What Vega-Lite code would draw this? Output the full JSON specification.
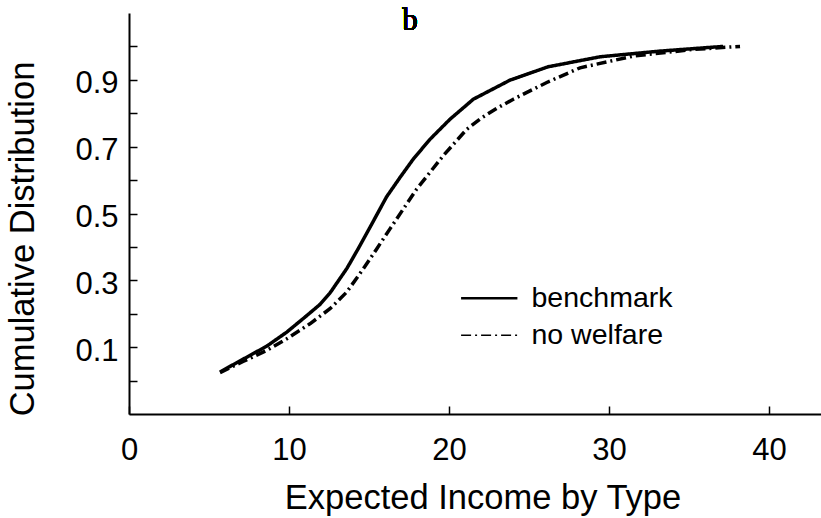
{
  "$schema": "https://vega.github.io/schema/vega-lite/v6.json",
  "width": 692,
  "height": 401,
  "autosize": {"type": "none"},
  "padding": {"left": 129, "top": 13, "right": 0, "bottom": 104},
  "background": "white",
  "data": {"values": [
    {"series": "benchmark", "income": 5.69, "cdf": 0.026},
    {"series": "benchmark", "income": 7.36, "cdf": 0.07},
    {"series": "benchmark", "income": 8.61, "cdf": 0.103},
    {"series": "benchmark", "income": 9.86, "cdf": 0.145},
    {"series": "benchmark", "income": 11.0, "cdf": 0.19},
    {"series": "benchmark", "income": 11.94, "cdf": 0.228},
    {"series": "benchmark", "income": 12.56, "cdf": 0.262},
    {"series": "benchmark", "income": 13.61, "cdf": 0.335},
    {"series": "benchmark", "income": 14.33, "cdf": 0.395},
    {"series": "benchmark", "income": 15.1, "cdf": 0.462},
    {"series": "benchmark", "income": 16.1, "cdf": 0.55},
    {"series": "benchmark", "income": 17.0, "cdf": 0.612},
    {"series": "benchmark", "income": 17.77, "cdf": 0.663},
    {"series": "benchmark", "income": 18.81, "cdf": 0.722},
    {"series": "benchmark", "income": 20.06, "cdf": 0.782},
    {"series": "benchmark", "income": 21.52, "cdf": 0.842},
    {"series": "benchmark", "income": 23.81, "cdf": 0.899},
    {"series": "benchmark", "income": 26.19, "cdf": 0.939},
    {"series": "benchmark", "income": 29.44, "cdf": 0.969},
    {"series": "benchmark", "income": 33.19, "cdf": 0.986},
    {"series": "benchmark", "income": 37.13, "cdf": 1.0},
    {"series": "no welfare", "income": 5.69, "cdf": 0.024},
    {"series": "no welfare", "income": 7.13, "cdf": 0.057},
    {"series": "no welfare", "income": 8.61, "cdf": 0.09},
    {"series": "no welfare", "income": 9.86, "cdf": 0.125},
    {"series": "no welfare", "income": 11.31, "cdf": 0.17},
    {"series": "no welfare", "income": 12.56, "cdf": 0.215},
    {"series": "no welfare", "income": 13.61, "cdf": 0.265},
    {"series": "no welfare", "income": 14.64, "cdf": 0.334},
    {"series": "no welfare", "income": 15.48, "cdf": 0.394},
    {"series": "no welfare", "income": 16.31, "cdf": 0.454},
    {"series": "no welfare", "income": 17.98, "cdf": 0.573},
    {"series": "no welfare", "income": 19.64, "cdf": 0.673},
    {"series": "no welfare", "income": 21.11, "cdf": 0.752},
    {"series": "no welfare", "income": 22.0, "cdf": 0.785},
    {"series": "no welfare", "income": 23.0, "cdf": 0.815},
    {"series": "no welfare", "income": 24.02, "cdf": 0.842},
    {"series": "no welfare", "income": 25.27, "cdf": 0.872},
    {"series": "no welfare", "income": 26.11, "cdf": 0.892},
    {"series": "no welfare", "income": 28.19, "cdf": 0.936},
    {"series": "no welfare", "income": 31.52, "cdf": 0.971},
    {"series": "no welfare", "income": 35.27, "cdf": 0.991},
    {"series": "no welfare", "income": 38.19, "cdf": 1.0}
  ]},
  "layer": [
    {
      "mark": {"type": "line", "strokeWidth": 3.5, "color": "black", "strokeCap": "butt"},
      "encoding": {
        "x": {
          "field": "income", "type": "quantitative",
          "scale": {"domain": [0, 43.25], "nice": false, "zero": false},
          "axis": {
            "title": "Expected Income by Type",
            "titleFont": "Liberation Sans", "titleFontSize": 34.5, "titleFontWeight": "normal", "titleColor": "black",
            "titleX": 353.5, "titleY": 94, "titleBaseline": "alphabetic", "titleAlign": "center",
            "values": [0, 10, 20, 30, 40],
            "tickSize": -8, "tickWidth": 1.5, "tickColor": "black",
            "domainColor": "black", "domainWidth": 2,
            "labelFont": "Liberation Sans", "labelFontSize": 31, "labelColor": "black",
            "labelPadding": 29, "labelFlush": false, "labelOverlap": false, "grid": false
          }
        },
        "y": {
          "field": "cdf", "type": "quantitative",
          "scale": {"domain": [-0.1, 1.1], "nice": false, "zero": false},
          "axis": {
            "title": "Cumulative Distribution",
            "titleFont": "Liberation Sans", "titleFontSize": 34.5, "titleFontWeight": "normal", "titleColor": "black",
            "titleX": -106, "titleY": 225.5, "titleAngle": -90, "titleBaseline": "middle", "titleAlign": "center",
            "values": [0, 0.1, 0.2, 0.3, 0.4, 0.5, 0.6, 0.7, 0.8, 0.9, 1.0],
            "labelExpr": "round(datum.value * 10) % 2 == 1 ? format(datum.value, '.1f') : ''",
            "tickSize": -8, "tickWidth": 1.5, "tickColor": "black",
            "domainColor": "black", "domainWidth": 2,
            "labelFont": "Liberation Sans", "labelFontSize": 31, "labelColor": "black",
            "labelPadding": 19, "labelOffset": 4, "labelFlush": false, "labelOverlap": false, "grid": false
          }
        },
        "strokeDash": {
          "field": "series", "type": "nominal",
          "scale": {"domain": ["benchmark", "no welfare"], "range": [[1, 0], [10, 4, 2, 4]]},
          "legend": {
            "orient": "none", "legendX": 346, "legendY": 271, "title": null,
            "symbolType": "stroke", "symbolSize": 3173, "symbolStrokeWidth": 2.5, "symbolStrokeColor": "black",
            "labelFont": "Liberation Sans", "labelFontSize": 28.5, "labelColor": "black",
            "labelOffset": 28, "rowPadding": 8, "padding": 0, "labelLimit": 400,
            "encode": {"symbols": {"update": {
              "strokeDash": {"signal": "datum.label === 'no welfare' ? [5, 3, 1.5, 3] : [1, 0]"},
              "strokeWidth": {"signal": "datum.label === 'no welfare' ? 1.5 : 2.5"}
            }}}
          }
        }
      }
    },
    {
      "mark": {"type": "text", "text": "b", "font": "Liberation Serif", "fontSize": 31, "fontWeight": "normal", "align": "center", "baseline": "alphabetic", "color": "black"},
      "encoding": {
        "x": {"datum": 17.56, "type": "quantitative"},
        "y": {"datum": 1.049, "type": "quantitative"}
      }
    }
  ],
  "config": {"view": {"stroke": null}}
}
